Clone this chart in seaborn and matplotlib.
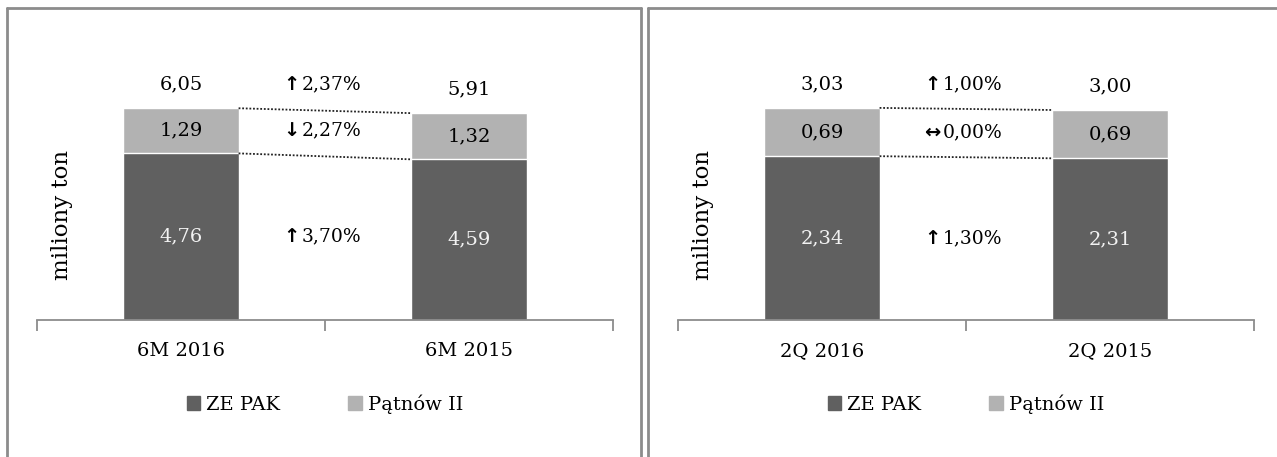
import matplotlib
matplotlib.use("Agg")
import matplotlib.pyplot as plt
from matplotlib.lines import Line2D
from matplotlib.patches import Patch
import seaborn as sns
import pandas as pd

# data
periods_left = ["6M 2016", "6M 2015"]
zepak_left = [4.76, 4.59]
patnow_left = [1.29, 1.32]
total_left = [6.05, 5.91]
arrows_left = ["\u2191", "\u2193", "\u2191"]
changes_left = ["2,37%", "2,27%", "3,70%"]

periods_right = ["2Q 2016", "2Q 2015"]
zepak_right = [2.34, 2.31]
patnow_right = [0.69, 0.69]
total_right = [3.03, 3.00]
arrows_right = ["\u2191", "\u2194", "\u2191"]
changes_right = ["1,00%", "0,00%", "1,30%"]

dark = "#606060"
light = "#b2b2b2"
edge = "#8c8c8c"

sns.set_style("white")
plt.rcParams["font.family"] = ["DejaVu Serif", "DejaVu Sans"]
plt.rcParams["text.color"] = "black"
plt.rcParams["xtick.color"] = "black"
plt.rcParams["axes.labelcolor"] = "black"

W, H = 1277, 457
fig = plt.figure(figsize=(W / 100, H / 100), dpi=100)

def fmt(v):
    return f"{v:.2f}".replace(".", ",")

def panel(left_px, periods, zepak, patnow, total, arrows, changes, ymax):
    ax = fig.add_axes([left_px / W, (H - 320) / H, 576 / W, 280 / H])
    df = pd.DataFrame({"period": periods, "zepak": zepak, "patnow": patnow, "total": total})
    sns.barplot(data=df, x="period", y="total", color=light, width=0.4,
                saturation=1, ax=ax)
    sns.barplot(data=df, x="period", y="zepak", color=dark, width=0.4,
                saturation=1, ax=ax)
    ax.set_xlim(-0.5, 1.5)
    ax.set_ylim(0, ymax)
    ax.set_yticks([])
    ax.set_ylabel("miliony ton", fontsize=16.5)
    ax.yaxis.set_label_coords(0.062, 0.375)
    ax.set_xlabel("")
    for s in ["top", "right", "left"]:
        ax.spines[s].set_visible(False)
    ax.spines["bottom"].set_color(edge)
    ax.spines["bottom"].set_linewidth(1.3)
    ax.set_xticks([-0.5, 0.5, 1.5], minor=True)
    ax.tick_params(axis="x", which="minor", bottom=True, length=8, width=1.3,
                   color=edge, direction="out")
    ax.tick_params(axis="x", which="major", length=0, pad=16, labelsize=14)
    for i in range(2):
        ax.text(i, total[i] + ymax * 0.085, fmt(total[i]), ha="center", va="center", fontsize=14)
        ax.text(i, zepak[i] + patnow[i] / 2, fmt(patnow[i]), ha="center", va="center",
                fontsize=14)
        ax.text(i, zepak[i] / 2, fmt(zepak[i]), ha="center", va="center",
                fontsize=14, color="#f2f2f2")
    # dotted connectors between bar edges
    ax.plot([0.2, 0.8], [total[0], total[1]], ls=(0, (1, 1)), color="#222222", lw=1.3)
    ax.plot([0.2, 0.8], [zepak[0], zepak[1]], ls=(0, (1, 1)), color="#222222", lw=1.3)
    ys = [total[0] + ymax * 0.085, zepak[0] + patnow[0] / 2, zepak[0] / 2]
    for arr, ch, y in zip(arrows, changes, ys):
        ax.annotate(arr, (0.5, y), xytext=(-24, 0), textcoords="offset points",
                    ha="center", va="center", fontsize=14, fontweight="bold",
                    family=["DejaVu Sans"])
        ax.annotate(ch, (0.5, y), xytext=(-17, 0), textcoords="offset points",
                    ha="left", va="center", fontsize=13.5)
    handles = [Patch(color=dark, label="ZE PAK"), Patch(color=light, label="P\u0105tnów II")]
    ax.legend(handles=handles, loc="center", bbox_to_anchor=(0.5, -0.30), ncol=2,
              frameon=False, fontsize=14, handlelength=0.7, handleheight=0.7,
              handletextpad=0.3, columnspacing=3.5)
    return ax

panel(37, periods_left, zepak_left, patnow_left, total_left, arrows_left, changes_left, 8)
panel(678, periods_right, zepak_right, patnow_right, total_right, arrows_right, changes_right, 4)

# panel borders
def fline(x0, y0, x1, y1):
    fig.add_artist(Line2D([x0 / W, x1 / W], [1 - y0 / H, 1 - y1 / H],
                          color=edge, lw=2, transform=fig.transFigure))

fline(7, 8, 7, H)
fline(7, 8, 641, 8)
fline(641, 8, 641, H)
fline(648, 8, 648, H)
fline(648, 8, W, 8)

fig.savefig("out.png", dpi=100, facecolor="white")
